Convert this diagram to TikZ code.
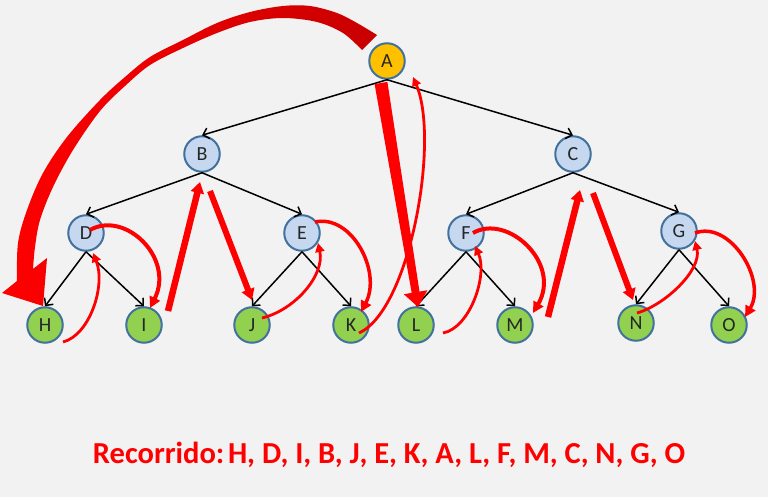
\documentclass[tikz,border=0pt]{standalone}
\usepackage{fontspec}
\setmainfont{Carlito}
\usetikzlibrary{arrows.meta,calc}
\definecolor{bg}{HTML}{F2F2F2}
\definecolor{nodeborder}{HTML}{41719C}
\definecolor{lblue}{HTML}{C5D8F0}
\definecolor{lgreen}{HTML}{92D050}
\definecolor{orng}{HTML}{FFC000}
\definecolor{darkred}{HTML}{C80000}
\begin{document}
\begin{tikzpicture}[x=1pt,y=-1pt,
  tnode/.style={circle, draw=nodeborder, line width=2pt, minimum size=35.5pt, inner sep=0pt, font=\fontsize{20}{20}\selectfont, text=black!85},
  innernode/.style={tnode, fill=lblue},
  leafnode/.style={tnode, fill=lgreen},
  rootnode/.style={tnode, fill=orng},
  edge/.style={black, line width=1.5pt, -{Straight Barb[length=5.5pt,width=11pt]}},
  trav/.style={red, line width=2.8pt, -{Triangle[length=9pt,width=9pt]}},
  travmid/.style={red, line width=4pt, -{Triangle[length=11pt,width=11pt]}},
  travthick/.style={red, line width=6.5pt, -{Triangle[length=11pt,width=13pt]}}]
\fill[bg] (0,0) rectangle (768,497);
\useasboundingbox (0,0) rectangle (768,497);

% nodes
\node[rootnode] (A) at (387,61) {A};
\node[innernode] (B) at (202,154) {B};
\node[innernode] (C) at (573,154) {C};
\node[innernode] (D) at (86,233) {D};
\node[innernode] (E) at (302,233) {E};
\node[innernode] (F) at (466,233) {F};
\node[innernode] (G) at (679,231) {G};
\node[leafnode] (H) at (45,325) {H};
\node[leafnode] (I) at (144,325) {I};
\node[leafnode] (J) at (252,325) {J};
\node[leafnode] (K) at (351,325) {K};
\node[leafnode] (L) at (416,325) {L};
\node[leafnode] (M) at (515,325) {M};
\node[leafnode] (N) at (636,323) {N};
\node[leafnode] (O) at (729,325) {O};

% tree edges
\draw[edge] (A.south) -- (B.north);
\draw[edge] (A.south) -- (C.north);
\draw[edge] (B.south) -- (D.north);
\draw[edge] (B.south) -- (E.north);
\draw[edge] (C.south) -- (F.north);
\draw[edge] (C.south) -- (G.north);
\draw[edge] (D.south) -- (H.north);
\draw[edge] (D.south) -- (I.north);
\draw[edge] (E.south) -- (J.north);
\draw[edge] (E.south) -- (K.north);
\draw[edge] (F.south) -- (L.north);
\draw[edge] (F.south) -- (M.north);
\draw[edge] (G.south) -- (N.north);
\draw[edge] (G.south) -- (O.north);

% big arrow A -> H
\shade[left color=red, middle color=red, right color=darkred]
  plot[smooth,tension=0.55] coordinates {(377,35) (357,23) (337,13) (310,6) (283,6) (250,12) (217,23) (183,40) (150,57) (125,77) (100,100) (67,137) (43,173) (27,210) (18,243) (17,281)}
  -- (2,293) -- (43,306) -- (47,258) --
  plot[smooth,tension=0.55] coordinates {(33,269) (35,247) (40,220) (53,187) (73,150) (100,111) (125,86) (150,65) (183,48) (217,33) (250,22) (283,18) (317,22) (343,33) (362,50)}
  -- cycle;

% traversal arrows
\draw[trav] ($(H)+(18,17)$) .. controls (90,335) and (106,285) .. ($(D)+(7,20)$);
\draw[travmid] ($(D)+(4,-3)$) .. controls (125,210) and (175,258) .. ($(I)+(6,-17)$);
\draw[travthick] ($(I)+(24,-14)$) -- ($(B)+(-2,28)$);
\draw[travthick, line width=6pt] ($(B)+(8,37)$) -- ($(J)+(0,-25)$);
\draw[trav] ($(J)+(10,-7)$) .. controls (295,310) and (325,275) .. ($(E)+(16,10)$);
\draw[travmid, line width=3.5pt] ($(E)+(13,-11)$) .. controls (352,214) and (382,272) .. ($(K)+(10,-13)$);
\draw[trav] ($(K)+(8,8)$) .. controls (410,310) and (440,140) .. ($(A)+(26,16)$);
\fill[red] (374.6,84.1) -- (387.4,81.9) -- (419.5,291.6) -- (427.4,290.2) -- (418,307) -- (403.8,294.2) -- (411.7,292.9) -- cycle;
\draw[trav] ($(L)+(27,8)$) .. controls (470,328) and (488,275) .. ($(F)+(9,13)$);
\draw[travmid] ($(F)+(7,0)$) .. controls (507,213) and (562,263) .. ($(M)+(18,-12)$);
\draw[travthick] ($(M)+(33,-8)$) -- ($(C)+(7,36)$);
\draw[travthick, line width=6pt] ($(C)+(20,39)$) -- ($(N)+(-3,-23)$);
\draw[trav] ($(N)+(1,-10)$) .. controls (665,305) and (702,270) .. ($(G)+(16,10)$);
\draw[travmid, line width=3.5pt] ($(G)+(16,2)$) .. controls (730,220) and (767,280) .. ($(O)+(16,-8)$);

% title
\node[text=red, font=\bfseries\fontsize{30.5}{30.5}\selectfont, inner sep=0pt] (title) at (389,455) {Recorrido:\hspace{0.12em}H, D, I, B, J, E, K, A, L, F, M, C, N, G, O};
\end{tikzpicture}
\end{document}
